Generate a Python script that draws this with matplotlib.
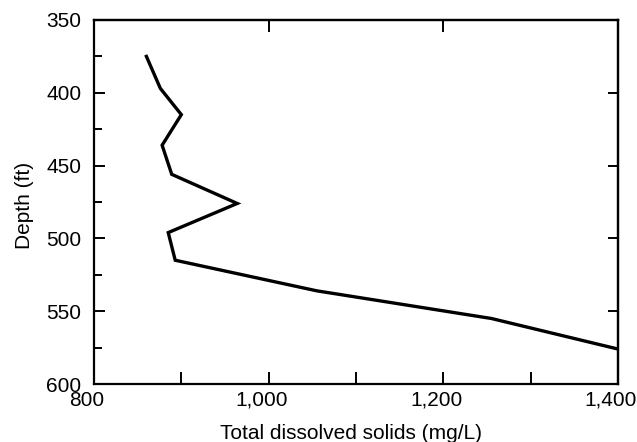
import matplotlib
matplotlib.use("Agg")
import matplotlib.pyplot as plt
from matplotlib.ticker import FuncFormatter, FixedLocator
from matplotlib.transforms import ScaledTranslation

plt.rcParams['font.family'] = ['Liberation Sans', 'DejaVu Sans']

# Data
tds = [860, 876, 900, 878, 889, 964, 885, 893, 1055, 1255, 1400]
depth = [375, 397, 415, 436, 456, 476, 496, 515, 536, 555, 576]

x_major = [800, 1000, 1200, 1400]
x_minor = [900, 1100, 1300]
y_major = [350, 400, 450, 500, 550, 600]
y_minor = [375, 425, 475, 525, 575]
top_ticks = [1000, 1200]
right_ticks = [400, 450, 500, 550]

fig = plt.figure(figsize=(6.37, 4.42), dpi=100)
ax = fig.add_axes([94/637, 1-384/442, 524/637, 364/442])

ax.plot(tds, depth, color='black', lw=2.4, solid_joinstyle='miter')

ax.set_xlim(800, 1400)
ax.set_ylim(600, 350)

ax.xaxis.set_major_locator(FixedLocator(x_major))
ax.xaxis.set_minor_locator(FixedLocator(x_minor))
ax.yaxis.set_major_locator(FixedLocator(y_major))
ax.yaxis.set_minor_locator(FixedLocator(y_minor))
ax.xaxis.set_major_formatter(FuncFormatter(lambda v, p: f"{int(v):,}"))

for s in ax.spines.values():
    s.set_linewidth(1.6)

ax.tick_params(axis='x', which='both', direction='in', length=8.5, width=1.4,
               labelsize=15, pad=5)
ax.tick_params(axis='y', which='major', direction='in', length=8, width=1.4,
               labelsize=15, pad=9)
ax.tick_params(axis='y', which='minor', direction='in', length=5.5, width=1.4)

secx = ax.secondary_xaxis('top')
secx.set_xticks(top_ticks)
secx.tick_params(direction='in', length=8.5, width=1.4, labeltop=False)
secx.spines['top'].set_linewidth(1.6)

secy = ax.secondary_yaxis('right')
secy.set_yticks(right_ticks)
secy.tick_params(direction='in', length=7.5, width=1.4, labelright=False)
secy.spines['right'].set_linewidth(1.6)

shift = ScaledTranslation(-7/100, 0, fig.dpi_scale_trans)
for lab in ax.get_xticklabels():
    lab.set_transform(lab.get_transform() + shift)

ax.set_xlabel('Total dissolved solids (mg/L)', fontsize=15)
ax.set_ylabel('Depth (ft)', fontsize=15)
ax.xaxis.set_label_coords(0.49, -0.11)
ax.yaxis.set_label_coords(-0.115, 0.49)

fig.savefig('out.png', dpi=100)
